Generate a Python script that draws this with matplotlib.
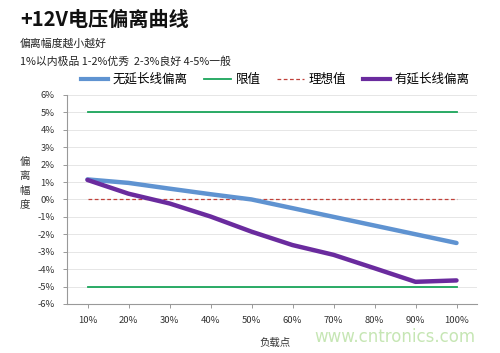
import matplotlib
matplotlib.use("Agg")
import matplotlib.pyplot as plt
from matplotlib.lines import Line2D

plt.rcParams['font.family'] = ['Noto Sans CJK SC', 'DejaVu Sans']

categories = ['10%', '20%', '30%', '40%', '50%', '60%', '70%', '80%', '90%', '100%']
no_ext = [1.15, 0.95, 0.62, 0.3, 0.0, -0.5, -1.0, -1.5, -2.0, -2.5]
with_ext = [1.12, 0.33, -0.23, -0.98, -1.85, -2.62, -3.18, -3.95, -4.73, -4.65]
limit_hi = 5
limit_lo = -5
ideal = 0
yticks = list(range(-6, 7))

fig = plt.figure(figsize=(5, 3.53), dpi=100)
ax = fig.add_axes([0.134, 0.139, 0.82, 0.592])
x = list(range(len(categories)))

c_blue = '#5f93d1'
c_green = '#1aa55a'
c_red = '#c0413a'
c_purple = '#6a2b9e'

ax.plot(x, [limit_hi]*len(x), color=c_green, lw=1.3, zorder=2)
ax.plot(x, [limit_lo]*len(x), color=c_green, lw=1.3, zorder=2)
ax.plot(x, [ideal]*len(x), color=c_red, lw=0.9, ls=(0, (3, 2)), zorder=2)
ax.plot(x, no_ext, color=c_blue, lw=3.2, solid_capstyle='round', zorder=3)
ax.plot(x, with_ext, color=c_purple, lw=3.2, solid_capstyle='round', zorder=4)

ax.set_xlim(-0.5, len(categories) - 0.5)
ax.set_ylim(-6, 6)
ax.set_yticks(yticks)
ax.set_yticklabels([f'{v}%' for v in yticks], fontsize=6.8, color='#333333')
ax.set_xticks(x)
ax.set_xticklabels(categories, fontsize=6.8, color='#333333')
ax.grid(axis='y', color='#e6e6e6', lw=0.7)
ax.set_axisbelow(True)
for s in ['top', 'right']:
    ax.spines[s].set_visible(False)
for s in ['left', 'bottom']:
    ax.spines[s].set_color('#999999')
    ax.spines[s].set_linewidth(0.8)
ax.tick_params(axis='both', length=3, color='#999999', width=0.7, pad=6)

fig.text(0.05, 0.48, '偏\n离\n幅\n度', fontsize=7.5, ha='center', va='center',
         color='#333333', linespacing=1.55)
fig.text(0.55, 0.028, '负载点', fontsize=7.5, ha='center', va='center', color='#333333')

fig.text(0.04, 0.945, '+12V电压偏离曲线', fontsize=14.5, fontweight='bold',
         ha='left', va='center', color='#111111')
fig.text(0.04, 0.877, '偏离幅度越小越好', fontsize=7.8, ha='left', va='center',
         color='#222222', style='italic')
fig.text(0.04, 0.825, '1%以内极品 1-2%优秀  2-3%良好 4-5%一般', fontsize=7.8,
         ha='left', va='center', color='#222222', style='italic')

handles = [Line2D([], [], color=c_blue, lw=3),
           Line2D([], [], color=c_green, lw=1.3),
           Line2D([], [], color=c_red, lw=0.9, ls=(0, (3, 2))),
           Line2D([], [], color=c_purple, lw=3)]
labels = ['无延长线偏离', '限值', '理想值', '有延长线偏离']
fig.legend(handles, labels, loc='center', bbox_to_anchor=(0.55, 0.775), ncol=4,
           frameon=False, fontsize=9, handlelength=2.2, columnspacing=1.3,
           handletextpad=0.35)

fig.text(0.79, 0.045, 'www.cntronics.com', fontsize=12, color='#c6e6b4',
         ha='center', va='center', family='DejaVu Sans')

fig.savefig('out.png', dpi=100)
